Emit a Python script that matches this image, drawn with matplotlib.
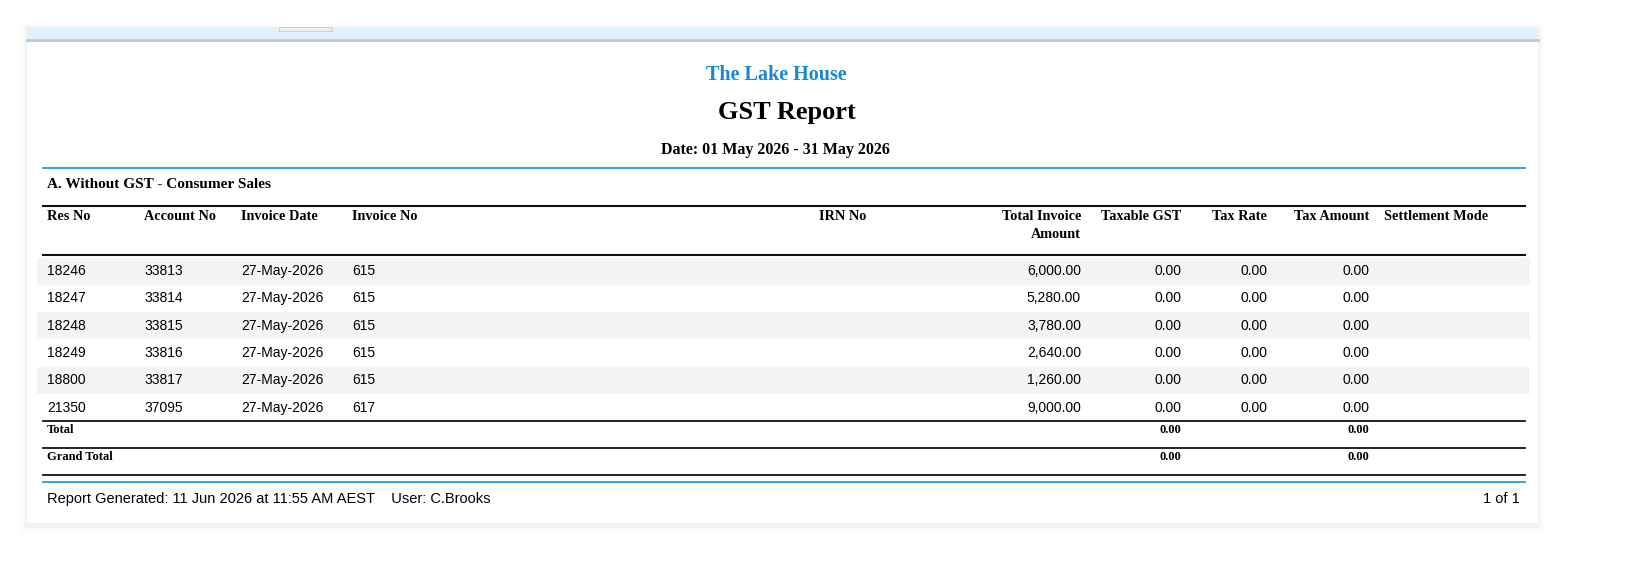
import matplotlib
matplotlib.use("Agg")
import matplotlib.pyplot as plt
from matplotlib.patches import Rectangle

res_no = ["18246", "18247", "18248", "18249", "18800", "21350"]
account_no = ["33813", "33814", "33815", "33816", "33817", "37095"]
invoice_date = ["27-May-2026"] * 6
invoice_no = ["615", "615", "615", "615", "615", "617"]
total_invoice = [6000.00, 5280.00, 3780.00, 2640.00, 1260.00, 9000.00]
taxable_gst = [0.00] * 6
tax_rate = [0.00] * 6
tax_amount = [0.00] * 6
total_taxable = 0.00
total_tax = 0.00

W, H = 1644, 579
fig = plt.figure(figsize=(W/100, H/100), dpi=100)
ax = fig.add_axes([0, 0, 1, 1])
ax.set_xlim(0, W); ax.set_ylim(H, 0); ax.axis("off")
fig.patch.set_facecolor("white")

SERIF = "Liberation Serif"; SANS = "Liberation Sans"

# card shadow + card
for i, a in enumerate([0.006, 0.009, 0.013, 0.018]):
    d = 8 - i*2
    ax.add_patch(Rectangle((27-d, 27-d+3), 1511+2*d, 496+2*d, color="black", alpha=a, lw=0))
ax.add_patch(Rectangle((27, 27), 1511, 496, color="white", lw=0))
ax.add_patch(Rectangle((27, 27), 1511, 12, color="#dff2f9", lw=0))
ax.plot([27, 1538], [39.5, 39.5], color="#b8cbd6", lw=2)
ax.add_patch(Rectangle((279, 27), 53, 4, facecolor="#ececec", edgecolor="#cccccc", lw=0.6))

ax.text(776, 75, "The Lake House", ha="center", va="center", family=SERIF, weight="bold", fontsize=14.5, color="#1a88d0")
ax.text(787, 112, "GST Report", ha="center", va="center", family=SERIF, weight="bold", fontsize=19)
ax.text(775, 150, "Date: 01 May 2026 - 31 May 2026", ha="center", va="center", family=SERIF, weight="bold", fontsize=11.5)
ax.plot([43, 1525], [168, 168], color="#2a9ad8", lw=1.3)
ax.text(47, 185, "A. Without GST - Consumer Sales", ha="left", va="center", family=SERIF, weight="bold", fontsize=11)

ax.plot([43, 1525], [205.5, 205.5], color="#111", lw=1.5)
hdr = dict(va="top", family=SERIF, weight="bold", fontsize=10.3)
hy = 210
ax.text(47, hy, "Res No", ha="left", **hdr)
ax.text(144, hy, "Account No", ha="left", **hdr)
ax.text(241, hy, "Invoice Date", ha="left", **hdr)
ax.text(352, hy, "Invoice No", ha="left", **hdr)
ax.text(843, hy, "IRN No", ha="center", **hdr)
ax.text(1081, hy, "Total Invoice\nAmount", ha="right", linespacing=1.45, **hdr)
ax.text(1181, hy, "Taxable GST", ha="right", **hdr)
ax.text(1267, hy, "Tax Rate", ha="right", **hdr)
ax.text(1369, hy, "Tax Amount", ha="right", **hdr)
ax.text(1384, hy, "Settlement Mode", ha="left", **hdr)
ax.plot([43, 1525], [254.5, 254.5], color="#111", lw=1.5)

rh = 27.3; y0 = 257.5
body = dict(va="center", family=SANS, fontsize=10)
for i in range(len(res_no)):
    top = y0 + i*rh; yc = top + rh/2
    if i % 2 == 0:
        ax.add_patch(Rectangle((37, top), 1493, rh, color="#f4f4f4", lw=0))
    ax.text(47, yc, res_no[i], ha="left", **body)
    ax.text(144, yc, account_no[i], ha="left", **body)
    ax.text(241, yc, invoice_date[i], ha="left", **body)
    ax.text(352, yc, invoice_no[i], ha="left", **body)
    ax.text(1081, yc, f"{total_invoice[i]:,.2f}", ha="right", **body)
    ax.text(1181, yc, f"{taxable_gst[i]:,.2f}", ha="right", **body)
    ax.text(1267, yc, f"{tax_rate[i]:,.2f}", ha="right", **body)
    ax.text(1369, yc, f"{tax_amount[i]:,.2f}", ha="right", **body)

tot = dict(va="center", family=SERIF, weight="bold", fontsize=9)
ax.plot([43, 1525], [421, 421], color="#111", lw=1.3)
ax.text(47, 430, "Total", ha="left", **tot)
ax.text(1181, 430, f"{total_taxable:.2f}", ha="right", **tot)
ax.text(1369, 430, f"{total_tax:.2f}", ha="right", **tot)
ax.plot([43, 1525], [447.5, 447.5], color="#111", lw=1.3)
ax.text(47, 457, "Grand Total", ha="left", **tot)
ax.text(1181, 457, f"{total_taxable:.2f}", ha="right", **tot)
ax.text(1369, 457, f"{total_tax:.2f}", ha="right", **tot)
ax.plot([43, 1525], [474.5, 474.5], color="#111", lw=1.3)
ax.plot([43, 1525], [482, 482], color="#2a9ad8", lw=1.3)

ax.text(47, 499, "Report Generated: 11 Jun 2026 at 11:55 AM AEST    User: C.Brooks", ha="left", va="center", family=SANS, fontsize=10.5)
ax.text(1520, 499, "1 of 1", ha="right", va="center", family=SANS, fontsize=10.5)

fig.savefig("out.png", dpi=100, facecolor="white")
